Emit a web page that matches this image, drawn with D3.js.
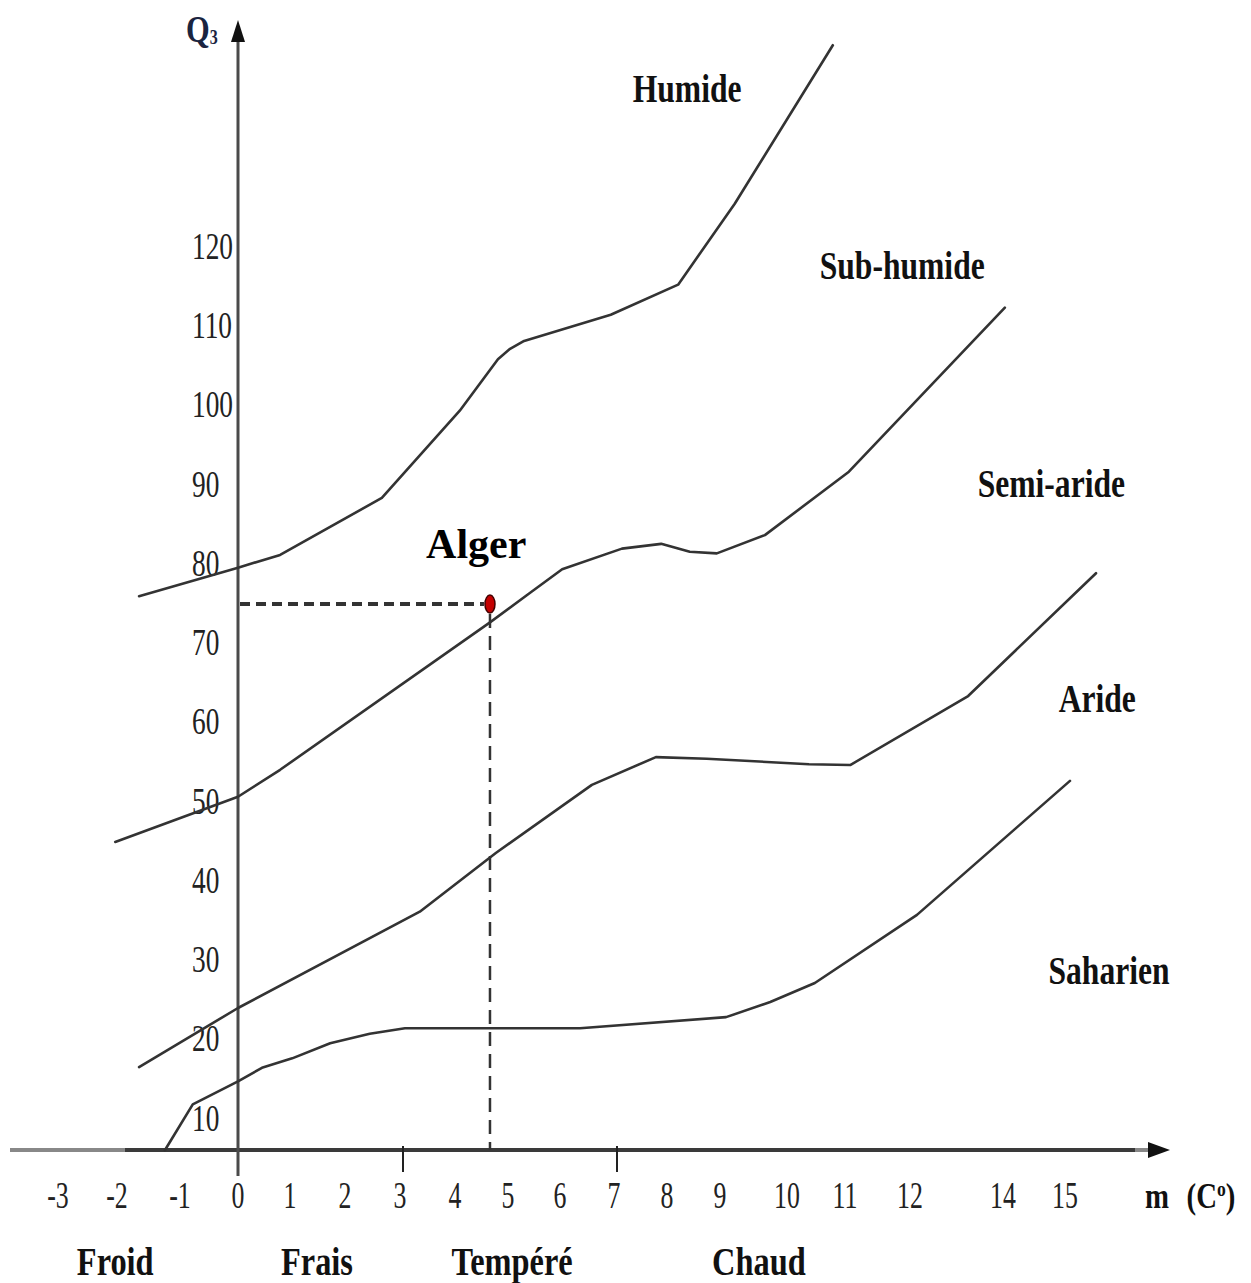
<!DOCTYPE html>
<html lang="fr">
<head>
<meta charset="UTF-8">
<title>Climagramme d'Emberger - Alger</title>
<script src="https://d3js.org/d3.v7.min.js"></script>
<style>
  body { margin: 0; background: #fff; }
  text { font-family: "Liberation Serif", "Times New Roman", serif; }
  .tick-label { font-size: 38px; fill: #222; }
  .zone { font-size: 40px; font-weight: bold; fill: #111; }
  .curve { fill: none; stroke: #333; stroke-width: 2.6; stroke-linejoin: round; stroke-linecap: round; }
</style>
</head>
<body>
<script>
const width = 1251, height = 1283;

// tick values (the m axis jumps from 12 to 14)
const mTicks = [-3, -2, -1, 0, 1, 2, 3, 4, 5, 6, 7, 8, 9, 10, 11, 12, 14, 15];
const qTicks = [10, 20, 30, 40, 50, 60, 70, 80, 90, 100, 110, 120];
const markedTicks = [0, 3, 7];

// limits between bioclimatic stages, [m (°C), Q3]
const humideLimit = [[-1.65, 75.7], [0, 79.3], [0.81, 80.9], [2.67, 88.1], [4.09, 99.1], [4.81, 105.6],
  [5.04, 106.9], [5.31, 107.9], [6.94, 111.2], [8.21, 115.0], [9.22, 125.2], [10.79, 145.2]];
const subHumideLimit = [[-2.03, 44.7], [0, 50.4], [0.81, 53.8], [4.66, 72.4], [5.40, 76.0], [6.04, 79.1],
  [7.15, 81.7], [7.89, 82.3], [8.43, 81.3], [8.94, 81.1], [9.67, 83.4], [11.06, 91.4], [14.03, 112.1]];
const semiArideLimit = [[-1.65, 16.3], [0, 23.75], [3.36, 35.9], [4.77, 43.3], [6.59, 51.9], [7.79, 55.4],
  [8.75, 55.2], [10.38, 54.5], [11.08, 54.4], [13.25, 63.1], [15.5, 78.6]];
const arideLimit = [[-1.24, 5.8], [-0.78, 11.6], [0, 14.5], [0.46, 16.2], [1.04, 17.4], [1.73, 19.3],
  [2.45, 20.5], [3.09, 21.2], [4.47, 21.2], [6.37, 21.2], [9.09, 22.6], [9.75, 24.5], [10.48, 26.9],
  [12.15, 35.5], [15.08, 52.4]];
const limits = [humideLimit, subHumideLimit, semiArideLimit, arideLimit];

// station
const station = { name: "Alger", m: 4.66, q: 74.7 };

// stage names and thermal variants
const stageNames = ["Humide", "Sub-humide", "Semi-aride", "Aride", "Saharien"];
const stageAnchors = [[8.38, 139.8], [11.88, 117.5], [14.78, 90.0], [15.52, 62.9], [15.71, 28.5]];
const winterNames = ["Froid", "Frais", "Tempéré", "Chaud"];
const winterAnchors = [-2.03, 1.49, 5.08, 9.58];

const svg = d3.select("body").append("svg")
  .attr("width", width).attr("height", height)
  .style("background", "#fff");

// hand drawn axis: uneven spacing, kept through a polylinear scale
const x = d3.scaleLinear()
  .domain(mTicks)
  .range([58, 117, 180, 238, 290, 345, 400, 455, 508, 560, 614, 667, 720, 787, 845, 910, 1003, 1065]);
const y = d3.scaleLinear().domain([10, 120]).range([1117, 245]);

const axisY = 1150;
const x0 = x(0);

// axes
svg.append("line").attr("x1", 10).attr("x2", 125).attr("y1", axisY).attr("y2", axisY)
  .attr("stroke", "#888").attr("stroke-width", 4);
svg.append("line").attr("x1", 125).attr("x2", 1135).attr("y1", axisY).attr("y2", axisY)
  .attr("stroke", "#3a3a3a").attr("stroke-width", 4);
svg.append("line").attr("x1", 1135).attr("x2", 1152).attr("y1", axisY).attr("y2", axisY)
  .attr("stroke", "#888").attr("stroke-width", 4);
svg.append("path")
  .attr("d", `M1170,${axisY} L1148,${axisY - 8} L1148,${axisY + 8} Z`)
  .attr("fill", "#111");

svg.append("line").attr("x1", x0).attr("x2", x0).attr("y1", 1176).attr("y2", 38)
  .attr("stroke", "#4a4a4a").attr("stroke-width", 3);
svg.append("path")
  .attr("d", `M${x0},20 L${x0 - 7},42 L${x0 + 7},42 Z`)
  .attr("fill", "#111");

svg.selectAll(".mark").data(markedTicks.filter(d => d !== 0)).join("line")
  .attr("class", "mark")
  .attr("x1", d => x(d) + 3).attr("x2", d => x(d) + 3)
  .attr("y1", axisY - 4).attr("y2", axisY + 22)
  .attr("stroke", "#222").attr("stroke-width", 2);

// tick labels (narrow serif)
svg.selectAll(".xlab").data(mTicks).join("g")
  .attr("class", "xlab")
  .attr("transform", d => `translate(${x(d)},1208)`)
  .append("text").attr("class", "tick-label")
  .attr("text-anchor", "middle")
  .attr("transform", "scale(0.68,1)")
  .text(d => d);

svg.selectAll(".ylab").data(qTicks).join("g")
  .attr("class", "ylab")
  .attr("transform", d => `translate(192,${y(d)})`)
  .append("text").attr("class", "tick-label")
  .attr("dy", "0.36em")
  .attr("transform", "scale(0.72,1)")
  .text(d => d);

// axis titles
const qTitle = svg.append("g").attr("transform", "translate(186,42)")
  .append("text").attr("transform", "scale(0.8,1)")
  .style("font-weight", "bold").style("fill", "#1a2440");
qTitle.append("tspan").style("font-size", "38px").text("Q");
qTitle.append("tspan").style("font-size", "20px").attr("dy", 2).text("3");

const mTitle = svg.append("g").attr("transform", "translate(1145,1208)")
  .append("text").attr("transform", "scale(0.8,1)")
  .style("font-weight", "bold").style("font-size", "36px").style("fill", "#111");
mTitle.append("tspan").text("m");
mTitle.append("tspan").attr("dx", 22).text("(C");
mTitle.append("tspan").style("font-size", "22px").attr("dy", -12).text("o");
mTitle.append("tspan").attr("dy", 12).text(")");

// stage limits
const line = d3.line().x(d => x(d[0])).y(d => y(d[1]));
svg.selectAll(".curve").data(limits).join("path")
  .attr("class", "curve")
  .attr("d", line);

// Alger projection
const sx = x(station.m), sy = y(station.q);
svg.append("line").attr("x1", x0 + 2).attr("x2", sx - 6).attr("y1", sy).attr("y2", sy)
  .attr("stroke", "#333").attr("stroke-width", 4).attr("stroke-dasharray", "10,6");
svg.append("line").attr("x1", sx).attr("x2", sx).attr("y1", sy + 10).attr("y2", axisY)
  .attr("stroke", "#333").attr("stroke-width", 2.5).attr("stroke-dasharray", "14,8");
svg.append("ellipse").attr("cx", sx).attr("cy", sy).attr("rx", 5).attr("ry", 9)
  .attr("fill", "#c40000").attr("stroke", "#400").attr("stroke-width", 1.5);
svg.append("text")
  .attr("x", x(4.4)).attr("y", y(82.4)).attr("dy", "0.35em")
  .attr("text-anchor", "middle")
  .style("font-size", "42px").style("font-weight", "bold").style("fill", "#000")
  .text(station.name);

// stage names
svg.selectAll(".stage").data(stageNames).join("g")
  .attr("class", "stage")
  .attr("transform", (d, i) => `translate(${x(stageAnchors[i][0])},${y(stageAnchors[i][1])})`)
  .append("text").attr("class", "zone")
  .attr("text-anchor", "middle").attr("dy", "0.35em")
  .attr("transform", "scale(0.79,1)")
  .text(d => d);

// winter variants
svg.selectAll(".winter").data(winterNames).join("g")
  .attr("class", "winter")
  .attr("transform", (d, i) => `translate(${x(winterAnchors[i])},1275)`)
  .append("text").attr("class", "zone")
  .attr("text-anchor", "middle")
  .attr("transform", "scale(0.81,1)")
  .text(d => d);
</script>
</body>
</html>
